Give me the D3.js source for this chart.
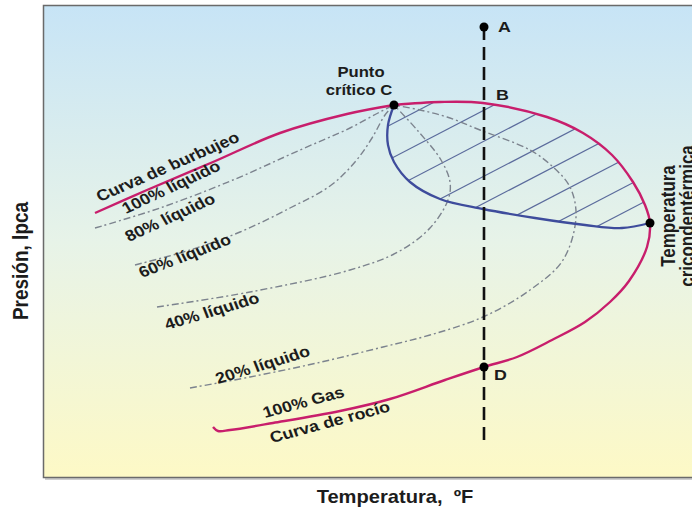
<!DOCTYPE html>
<html>
<head>
<meta charset="utf-8">
<script src="https://cdn.jsdelivr.net/npm/d3@7"></script>
<style>
  body { margin: 0; background: #fff; }
  svg { display: block; }
  text { font-family: 'Liberation Sans', Arial, sans-serif; font-weight: bold; fill: #1c1c1c; }
</style>
</head>
<body>
<div id="chart"></div>
<script>
let width = 692
let height = 514

// every pair is [temperatura, presión] in chart units
let bubbleCurve = [[51,264],[103,287],[169,315],[236,344],[303,363],[350,372]]
let dewCurve = [[350,372],[396,375],[439,374],[503,360],[539,344],[568,322],[589,295],[601,272],[606,254],
                [603,230],[585,196],[566,175],[541,155],[508,137],[473,120],[440,110],[401,97],[346,78],
                [296,66],[229,54],[186,47],[174,46],[169,50]]
let innerEdge = [[350,372],[344,352],[344,332],[350,315],[366,295],[396,278],[439,268],[491,259],[541,252],[578,249],[606,254]]
let liquid80 = [[51,249],[116,269],[189,297],[256,327],[306,349],[334,364],[350,372]]
let liquid60 = [[91,212],[146,227],[196,245],[246,269],[286,291],[311,315],[328,339],[341,362],[350,372]]
let liquid40 = [[113,170],[206,185],[306,207],[354,225],[386,249],[404,277],[406,295],[397,317],[374,346],[350,372]]
let liquid20 = [[146,89],[206,100],[273,114],[339,130],[386,142],[439,160],[486,187],[519,217],[532,260],
                [526,290],[509,310],[486,327],[436,347],[403,360],[376,367],[350,372]]

// hatching inside the two-phase region: p = slope * t + intercept
let hatchSlope = 0.52
let hatchIntercepts = [172, 138, 107, 72, 45, 16, -12, -37]

let isothermT = 440
let isothermRange = [34, 450]
let dotPoints = [[440,450],[350,372],[606,254],[440,110]]

let letterNames = ['A', 'B', 'D']
let letterPos = [[454,445],[452,377],[450,97]]

let curveNames = ['Curva de burbujeo', '100% líquido', '80% líquido', '60% líquido', '40% líquido',
                  '20% líquido', '100% Gas', 'Curva de rocío']
let curveLabelPos = [[56,275],[82,263],[85,235],[98,199],[123,147],[174,93],[221,59],[228,34]]
let curveLabelAngle = [-23.5, -25, -24.5, -21, -16.5, -17, -15, -15]

let x = d3.scaleLinear().domain([0, 650]).range([44, 694])
let y = d3.scaleLinear().domain([0, 472]).range([477, 5])

let svg = d3.select('#chart')
            .append('svg')
            .attr('width', width)
            .attr('height', height)

let defs = svg.append('defs')
let grad = defs.append('linearGradient')
               .attr('id', 'bg')
               .attr('x1', 0).attr('y1', 0)
               .attr('x2', 0).attr('y2', 1)
grad.selectAll('stop')
    .data([['0%', '#c7e4f6'], ['50%', '#e7f3e8'], ['100%', '#fdf9c6']])
    .enter()
    .append('stop')
    .attr('offset', d => d[0])
    .attr('stop-color', d => d[1])

// plot frame
svg.append('line')
   .attr('x1', 45).attr('x2', 700)
   .attr('y1', 479).attr('y2', 479)
   .style('stroke', '#cfcfcf')
   .style('stroke-width', 2)
svg.append('rect')
   .attr('x', 43.5)
   .attr('y', 5.5)
   .attr('width', 680)
   .attr('height', 472)
   .style('fill', 'url(#bg)')
   .style('stroke', '#6a6a6a')
   .style('stroke-width', 1.5)

let line = d3.line()
             .x(d => x(d[0]))
             .y(d => y(d[1]))
             .curve(d3.curveCatmullRom)

// clip region between the envelope top and the inner blue edge
let topIdx = dewCurve.findIndex(d => d[0] === 606)
let clipD = line(dewCurve.slice(0, topIdx + 1)) + line(innerEdge.slice().reverse()).replace('M', 'L') + 'Z'
defs.append('clipPath')
    .attr('id', 'twophase')
    .append('path')
    .attr('d', clipD)

svg.append('g')
   .attr('clip-path', 'url(#twophase)')
   .selectAll('line')
   .data(hatchIntercepts)
   .enter()
   .append('line')
   .attr('x1', x(300))
   .attr('y1', b => y(hatchSlope * 300 + b))
   .attr('x2', x(650))
   .attr('y2', b => y(hatchSlope * 650 + b))
   .style('stroke', '#5b6b9c')
   .style('stroke-width', 1.2)

// quality lines
svg.append('g')
   .selectAll('path')
   .data([liquid80, liquid60, liquid40, liquid20])
   .enter()
   .append('path')
   .attr('d', line)
   .style('fill', 'none')
   .style('stroke', '#7c838e')
   .style('stroke-width', 1.4)
   .style('stroke-dasharray', '7,3,2,3')

svg.append('path')
   .attr('d', line(innerEdge))
   .style('fill', 'none')
   .style('stroke', '#3e4c9c')
   .style('stroke-width', 2.3)

svg.selectAll('.envelope')
   .data([bubbleCurve, dewCurve])
   .enter()
   .append('path')
   .attr('class', 'envelope')
   .attr('d', line)
   .style('fill', 'none')
   .style('stroke', '#c81e6c')
   .style('stroke-width', 2.4)

svg.append('line')
   .attr('x1', x(isothermT)).attr('x2', x(isothermT))
   .attr('y1', y(isothermRange[1])).attr('y2', y(isothermRange[0]))
   .style('stroke', '#111')
   .style('stroke-width', 2.6)
   .style('stroke-dasharray', '13,7')

svg.selectAll('.dot')
   .data(dotPoints)
   .enter()
   .append('circle')
   .attr('class', 'dot')
   .attr('cx', d => x(d[0]))
   .attr('cy', d => y(d[1]))
   .attr('r', 4.5)
   .style('fill', '#000')

// the source picture is slightly stretched sideways, so text gets the same stretch
let stretch = 1.15
function place(px, py, angle) {
  let r = angle * Math.PI / 180
  let a = Math.atan2(Math.sin(r), Math.cos(r) / stretch) * 180 / Math.PI
  return 'translate(' + px + ',' + py + ') scale(' + stretch + ',1) rotate(' + a + ')'
}

svg.selectAll('.curvelabel')
   .data(curveNames)
   .enter()
   .append('text')
   .attr('class', 'curvelabel')
   .attr('transform', (d, i) => place(x(curveLabelPos[i][0]), y(curveLabelPos[i][1]), curveLabelAngle[i]))
   .style('font-size', '15.5px')
   .text(d => d)

svg.selectAll('.letter')
   .data(letterNames)
   .enter()
   .append('text')
   .attr('class', 'letter')
   .attr('transform', (d, i) => place(x(letterPos[i][0]), y(letterPos[i][1]), 0))
   .style('font-size', '15.5px')
   .text(d => d)

svg.append('text')
   .attr('transform', place(x(317), y(400), 0))
   .attr('text-anchor', 'middle')
   .style('font-size', '14.5px')
   .text('Punto')
svg.append('text')
   .attr('transform', place(x(315), y(382), 0))
   .attr('text-anchor', 'middle')
   .style('font-size', '14.5px')
   .text('crítico C')

// second line runs off the right edge, as in the source
svg.append('text')
   .attr('transform', place(x(631), y(261), -90))
   .attr('text-anchor', 'middle')
   .style('font-size', '17px')
   .text('Temperatura')
svg.append('text')
   .attr('transform', place(x(650), y(261), -90))
   .attr('text-anchor', 'middle')
   .style('font-size', '17px')
   .text('cricondentérmica')

// axis titles
svg.append('text')
   .attr('transform', place(395, 503, 0))
   .attr('text-anchor', 'middle')
   .style('font-size', '17.5px')
   .text('Temperatura,\u00a0\u00a0ºF')
svg.append('text')
   .attr('transform', place(28, 261, -90))
   .attr('text-anchor', 'middle')
   .style('font-size', '19px')
   .text('Presión, lpca')
</script>
</body>
</html>
